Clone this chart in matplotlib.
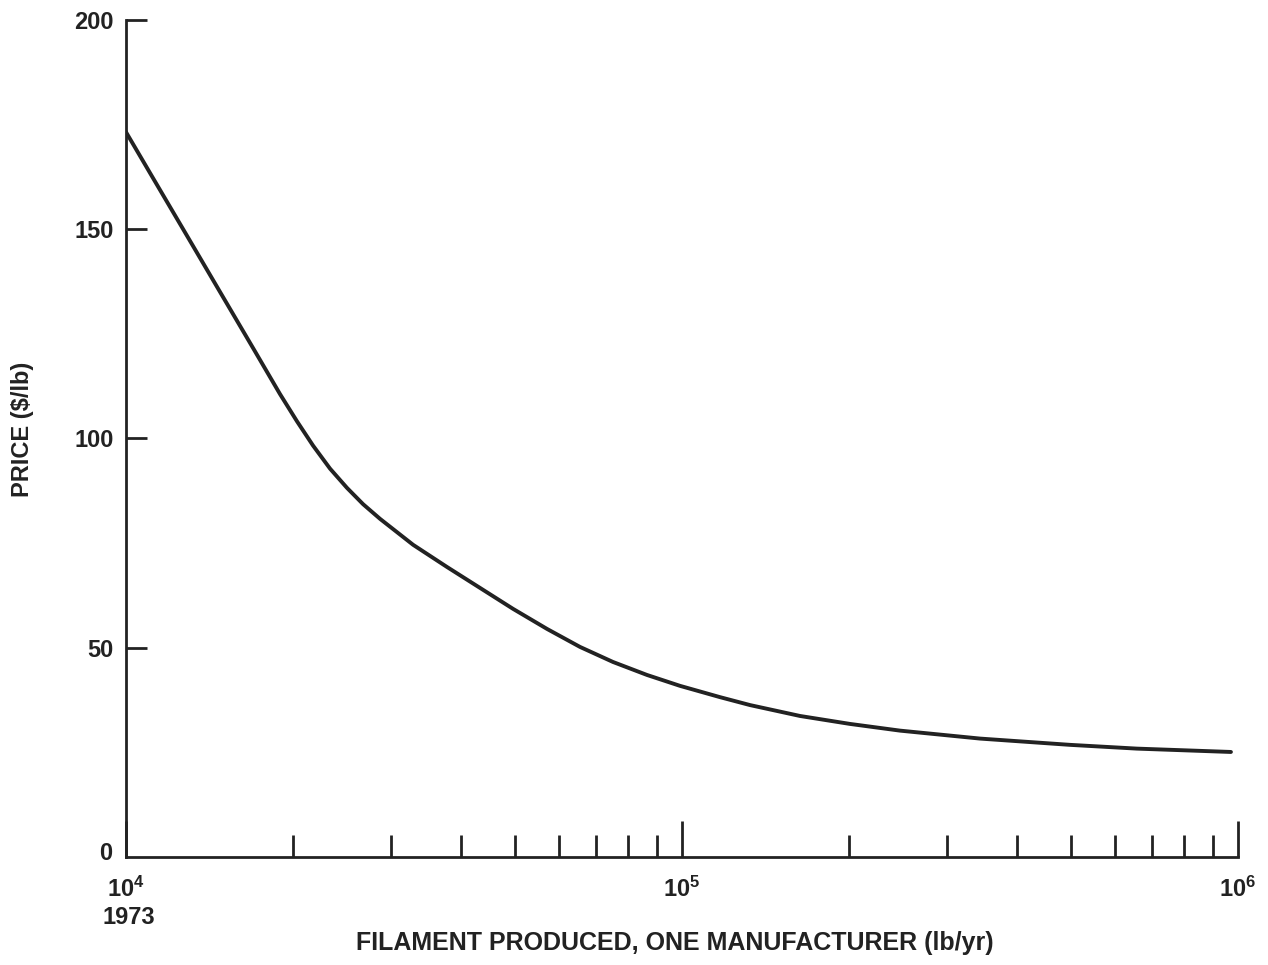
import numpy as np
import matplotlib.pyplot as plt

plt.rcParams['font.family'] = 'Liberation Sans'
plt.rcParams['font.weight'] = 'bold'
plt.rcParams['mathtext.fontset'] = 'custom'
plt.rcParams['mathtext.rm'] = 'Liberation Sans:bold'
plt.rcParams['mathtext.it'] = 'Liberation Sans:bold'
plt.rcParams['mathtext.bf'] = 'Liberation Sans:bold'

# curve
filament = [1.0e4, 1.1185e4, 1.2878e4, 1.4762e4, 1.6925e4, 1.8923e4, 2.0301e4,
            2.1697e4, 2.3276e4, 2.497e4, 2.6694e4, 2.8634e4, 3.2836e4, 3.7785e4,
            4.332e4, 4.9666e4, 5.7177e4, 6.5546e4, 7.5155e4, 8.651e4, 9.9174e4,
            1.1704e5, 1.3258e5, 1.6305e5, 2.0055e5, 2.4665e5, 3.4356e5,
            4.9882e5, 6.5804e5, 9.7143e5]
price = [173.2, 162.2, 148.4, 135.0, 121.6, 110.6, 104.1,
         98.3, 92.8, 88.2, 84.3, 80.8, 74.6, 69.3,
         64.3, 59.3, 54.5, 50.2, 46.6, 43.5, 40.9,
         38.2, 36.3, 33.7, 31.8, 30.2, 28.3,
         26.8, 25.9, 25.1]

y_ticks = [50, 100, 150, 200]
y_labels = ['50', '100', '150', '200']
x_major = [1e4, 1e5, 1e6]
x_labels = ['$10^4$', '$10^5$', '$10^6$']

ink = '#222222'

fig = plt.figure(figsize=(12.68, 9.65), dpi=100)
ax = fig.add_axes([0.0994, 0.1119, 0.8769, 0.8674])

ax.plot(filament, price, color=ink, lw=2.8, solid_capstyle='round',
        solid_joinstyle='round')

ax.set_xscale('log')
ax.set_xlim(1e4, 1e6)
ax.set_ylim(0, 200)

ax.spines['top'].set_visible(False)
ax.spines['right'].set_visible(False)
for s in ['left', 'bottom']:
    ax.spines[s].set_linewidth(2.0)
    ax.spines[s].set_color(ink)

ax.set_yticks(y_ticks)
ax.set_yticklabels(y_labels)
ax.set_xticks(x_major)
ax.set_xticklabels(x_labels)
ax.set_xticks([k * 10**e for e in (4, 5) for k in range(2, 10)], minor=True)

ax.tick_params(axis='y', direction='in', length=15, width=2.0, color=ink,
               labelsize=17, pad=9, labelcolor=ink)
ax.tick_params(axis='x', which='major', direction='in', length=26, width=2.0,
               color=ink, labelsize=17, pad=14, labelcolor=ink)
ax.tick_params(axis='x', which='minor', direction='in', length=16, width=2.0,
               color=ink)

# the 0 at the origin, and the year under 10^4
fig.text(106 / 1268, 1 - 853 / 965, '0', ha='center', va='center',
         fontsize=17, color=ink)
fig.text(129 / 1268, 1 - 917 / 965, '1973', ha='center', va='center',
         fontsize=17, color=ink)

fig.text(675 / 1268, 1 - 943 / 965, 'FILAMENT PRODUCED, ONE MANUFACTURER (lb/yr)',
         ha='center', va='center', fontsize=18, color=ink)
fig.text(22 / 1268, 1 - 429 / 965, 'PRICE ($/lb)', rotation=90,
         ha='center', va='center', fontsize=17, color=ink)

plt.savefig('out.png', dpi=100)
